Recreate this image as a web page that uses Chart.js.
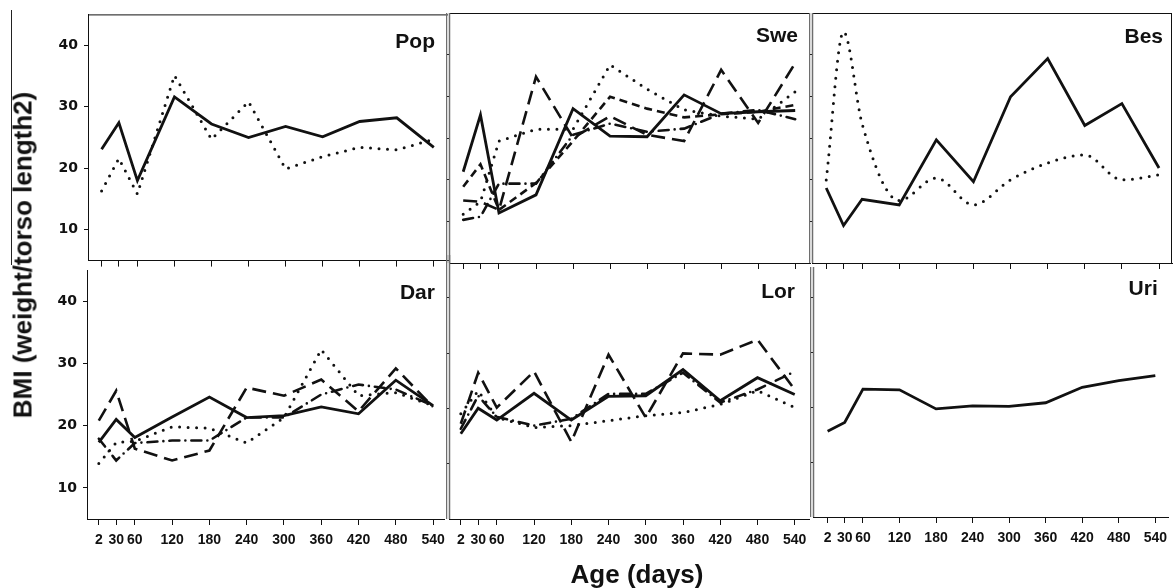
<!DOCTYPE html>
<html>
<head>
<meta charset="utf-8">
<script src="https://cdn.jsdelivr.net/npm/chart.js@4.4.1/dist/chart.umd.min.js"></script>
<style>
  html, body { margin: 0; padding: 0; background: #fff; }
  #fig { position: relative; width: 1174px; height: 588px; overflow: hidden; font-family: 'Liberation Sans', Arial, sans-serif; color: #111; }
  #fig canvas { position: absolute; }
  .ytitle { position: absolute; left: 23px; top: 255px; transform: translate(-50%, -50%) rotate(-90deg); font-weight: bold; font-size: 26px; white-space: nowrap; }
  .xtitle { position: absolute; left: 637px; top: 574px; transform: translate(-50%, -50%); font-weight: bold; font-size: 26px; white-space: nowrap; }
  .rule { position: absolute; left: 11px; top: 10px; width: 1px; height: 255px; background: #222; }
</style>
</head>
<body>
<div id="fig">
  <div class="rule"></div>
  <canvas id="pop"></canvas>
  <canvas id="swe"></canvas>
  <canvas id="bes"></canvas>
  <canvas id="dar"></canvas>
  <canvas id="lor"></canvas>
  <canvas id="uri"></canvas>
  <div class="ytitle">BMI (weight/torso length2)</div>
  <div class="xtitle">Age (days)</div>
</div>
<script>
// Âge (jours) et graduations
const DAYS    = [2, 30, 60, 120, 180, 240, 300, 360, 420, 480, 540];
const X_TICKS = [2, 30, 60, 120, 180, 240, 300, 360, 420, 480, 540];
const Y_TICKS = [10, 20, 30, 40];
const SUB_TICKS_TOP    = [10, 20, 30, 40, 50];   // petites graduations (échelle 0-60) des panneaux Swe / Bes
const SUB_TICKS_BOTTOM = [10, 20, 30, 40];       // petites graduations (échelle 0-45) des panneaux Lor / Uri

// Pop
const popSolid  = [23.1, 27.4, 18.0, 31.6, 27.2, 25.0, 26.8, 25.1, 27.6, 28.2, 23.4];
const popDotted = [16.3, 21.6, 15.8, 35.1, 24.7, 30.8, 19.9, 21.9, 23.4, 23.0, 24.7];

// Swe
const sweSolid    = [19.6, 28.7, 13.0, 15.9, 29.7, 25.3, 25.2, 31.9, 28.9, 29.2, 29.4];
const sweDotted   = [12.8, 14.8, 24.5, 26.4, 26.4, 36.7, 32.8, 29.5, 28.5, 28.0, 32.4];
const sweLongDash = [15.0, 14.8, 13.5, 34.8, 25.0, 28.5, 25.5, 24.5, 35.9, 27.4, 37.0];
const sweMedDash  = [17.2, 20.8, 13.5, 17.8, 24.5, 31.6, 29.7, 28.3, 28.8, 29.2, 30.3];
const sweDashDot  = [11.9, 12.4, 17.7, 17.7, 25.5, 27.3, 26.0, 26.5, 28.9, 29.5, 28.0];

// Bes
const besSolid  = [17.0, 11.0, 15.2, 14.3, 24.7, 18.0, 31.6, 37.7, 27.0, 30.5, 20.2];
const besDotted = [18.3, 42.0, 27.3, 15.0, 18.6, 14.3, 18.3, 21.0, 22.3, 18.3, 19.1];

// Dar
const darSolid    = [17.3, 21.0, 18.1, 21.4, 24.6, 21.3, 21.6, 23.0, 21.9, 27.3, 23.2];
const darLongDash = [20.8, 25.6, 16.3, 14.4, 16.0, 26.1, 24.8, 27.4, 22.3, 29.2, 23.0];
const darDashDot  = [17.9, 14.4, 17.2, 17.6, 17.6, 21.3, 21.3, 25.0, 26.6, 25.8, 23.2];
const darDotted   = [13.9, 17.3, 17.5, 19.8, 19.6, 17.2, 21.3, 32.2, 24.8, 25.3, 23.2];

// Lor
const lorSolid    = [18.7, 22.8, 20.9, 25.2, 20.9, 24.7, 24.8, 29.0, 24.0, 27.7, 25.0];
const lorLongDash = [20.3, 28.5, 22.9, 28.7, 17.4, 31.4, 21.3, 31.6, 31.4, 33.8, 25.8];
const lorDashDot  = [19.5, 24.8, 21.4, 20.0, 21.1, 25.1, 25.1, 28.5, 23.7, 25.8, 28.7];
const lorDotted   = [21.9, 25.6, 21.3, 19.7, 20.0, 20.8, 21.6, 22.1, 23.4, 25.6, 22.9];

// Uri
const uriSolid = [18.9, 20.3, 25.7, 25.6, 22.5, 23.0, 22.9, 23.5, 26.0, 27.1, 27.9];

const INK = '#111';

// Styles de trait (noir et blanc, comme la figure d'origine)
const STYLES = {
    solid:    { borderWidth: 2.8, borderDash: [],             borderCapStyle: 'butt'  },
    dotted:   { borderWidth: 3,   borderDash: [0, 8.5],       borderCapStyle: 'round' },
    longDash: { borderWidth: 2.6, borderDash: [14, 7],        borderCapStyle: 'butt'  },
    medDash:  { borderWidth: 2.6, borderDash: [8, 5],         borderCapStyle: 'butt'  },
    dashDot:  { borderWidth: 2.6, borderDash: [10, 6, 0, 6],  borderCapStyle: 'round' },
};

// Cadres, double trait gris et nom du panneau
const panelFrame = {
    id: 'panelFrame',
    afterDraw(chart, args, o) {
        const { ctx, chartArea: a } = chart;
        ctx.save();
        ctx.strokeStyle = INK;
        ctx.lineWidth = 1;
        ctx.beginPath();
        if (o.top)   { ctx.moveTo(a.left, a.top + 0.5); ctx.lineTo(a.right, a.top + 0.5); }
        if (o.right) { ctx.moveTo(a.right - 0.5, a.top); ctx.lineTo(a.right - 0.5, a.bottom); }
        ctx.stroke();
        if (o.double) {
            ctx.strokeStyle = '#6e6e6e';
            ctx.lineWidth = 1.5;
            ctx.beginPath();
            [a.left - 2.5, a.left + 0.5].forEach(x => {
                ctx.moveTo(x, a.top - (o.doubleUp || 0));
                ctx.lineTo(x, a.bottom);
            });
            ctx.stroke();
        }
        ctx.fillStyle = INK;
        ctx.font = 'bold 21px "Liberation Sans", Arial, sans-serif';
        ctx.textAlign = 'right';
        ctx.textBaseline = 'alphabetic';
        ctx.fillText(o.label, a.right - o.lx, a.top + o.ly);
        ctx.restore();
    }
};

const panels = [
    { id: 'pop', label: 'Pop', left: 0,   top: 0,   w: 452, h: 275, pad: { top: 13, right: 4 }, yw: 88, xh: 12,
      xMin: -20, xMax: 563, yLabels: true,  xLabels: false, frame: { top: true }, lx: 13, ly: 34,
      series: [[popDotted, 'dotted'], [popSolid, 'solid']] },
    { id: 'swe', label: 'Swe', left: 446, top: 0,   w: 368, h: 275, pad: { top: 13, right: 4 }, yw: 3,  xh: 12,
      xMin: -21, xMax: 564, subMax: 60, subTicks: SUB_TICKS_TOP, xLabels: false, frame: { top: true, double: true }, lx: 12, ly: 29,
      series: [[sweDotted, 'dotted'], [sweLongDash, 'longDash'], [sweMedDash, 'medDash'], [sweDashDot, 'dashDot'], [sweSolid, 'solid']] },
    { id: 'bes', label: 'Bes', left: 809, top: 0,   w: 367, h: 275, pad: { top: 13, right: 4 }, yw: 3,  xh: 12,
      xMin: -21, xMax: 561, subMax: 60, subTicks: SUB_TICKS_TOP, xLabels: false, frame: { top: true, right: true, double: true }, lx: 9, ly: 30,
      smoothDots: true, series: [[besDotted, 'dotted'], [besSolid, 'solid']] },
    { id: 'dar', label: 'Dar', left: 0,   top: 255, w: 452, h: 300, pad: { top: 15, right: 7 }, yw: 87, xh: 36,
      xMin: -17, xMax: 559, yLabels: true,  xLabels: true, frame: {}, lx: 10, ly: 29,
      series: [[darDotted, 'dotted'], [darDashDot, 'dashDot'], [darLongDash, 'longDash'], [darSolid, 'solid']] },
    { id: 'lor', label: 'Lor', left: 446, top: 255, w: 368, h: 300, pad: { top: 15, right: 5 }, yw: 3,  xh: 36,
      xMin: -17, xMax: 563, subMax: 45, subTicks: SUB_TICKS_BOTTOM, xLabels: true, frame: { double: true, doubleUp: 15 }, lx: 14, ly: 28,
      series: [[lorDotted, 'dotted'], [lorDashDot, 'dashDot'], [lorLongDash, 'longDash'], [lorSolid, 'solid']] },
    { id: 'uri', label: 'Uri', left: 810, top: 255, w: 364, h: 300, pad: { top: 15, right: 0 }, yw: 3,  xh: 38,
      xMin: -22, xMax: 562, subMax: 45, subTicks: SUB_TICKS_BOTTOM, xLabels: true, frame: { double: true, doubleUp: 3 }, lx: 11, ly: 25,
      series: [[uriSolid, 'solid']] },
];

const tickFontX = { family: 'Liberation Sans', size: 14, weight: 'bold' };
const tickFontY = { family: 'DejaVu Sans', size: 14, weight: 'bold' };

panels.forEach(p => {
    const canvas = document.getElementById(p.id);
    canvas.width = p.w;
    canvas.height = p.h;
    canvas.style.left = p.left + 'px';
    canvas.style.top  = p.top + 'px';

    const datasets = p.series.map(([vals, style]) => Object.assign({
        data: DAYS.map((d, i) => ({ x: d, y: vals[i] })),
        borderColor: INK,
        pointRadius: 0,
        fill: false,
        tension: 0,
        yAxisID: 'y',
    }, STYLES[style], (p.smoothDots && style === 'dotted') ? { cubicInterpolationMode: 'monotone' } : {}));

    const scales = {
        x: {
            type: 'linear', position: 'bottom', min: p.xMin, max: p.xMax,
            afterBuildTicks: s => { s.ticks = X_TICKS.map(v => ({ value: v })); },
            afterFit: s => { s.height = p.xh; },
            ticks: { display: p.xLabels, autoSkip: false, maxRotation: 0, padding: 7, color: INK, font: tickFontX },
            grid: { drawOnChartArea: false, drawTicks: true, tickLength: 6, color: INK },
            border: { display: true, color: INK, width: 1 },
        },
    };
    if (p.yLabels) {
        scales.y = {
            type: 'linear', position: 'left', min: 5, max: 45,
            afterBuildTicks: s => { s.ticks = Y_TICKS.map(v => ({ value: v })); },
            afterFit: s => { s.width = p.yw; },
            ticks: { padding: 6, color: INK, font: tickFontY },
            grid: { drawOnChartArea: false, drawTicks: true, tickLength: 4, color: INK },
            border: { display: true, color: INK, width: 1 },
        };
    } else {
        scales.y = { type: 'linear', display: false, min: 5, max: 45 };
        scales.y2 = {
            type: 'linear', position: 'left', min: 0, max: p.subMax,
            afterBuildTicks: s => { s.ticks = p.subTicks.map(v => ({ value: v })); },
            afterFit: s => { s.width = p.yw; },
            ticks: { display: false },
            grid: { drawOnChartArea: false, drawTicks: true, tickLength: 3, color: INK },
            border: { display: false },
        };
    }

    new Chart(canvas.getContext('2d'), {
        type: 'line',
        data: { datasets },
        options: {
            responsive: false,
            animation: false,
            devicePixelRatio: 1,
            layout: { padding: { top: p.pad.top, right: p.pad.right, left: 0, bottom: 0 } },
            plugins: {
                legend: { display: false },
                tooltip: { enabled: false },
                panelFrame: Object.assign({ label: p.label, lx: p.lx, ly: p.ly }, p.frame),
            },
            scales,
        },
        plugins: [panelFrame],
    });
});
</script>
</body>
</html>
